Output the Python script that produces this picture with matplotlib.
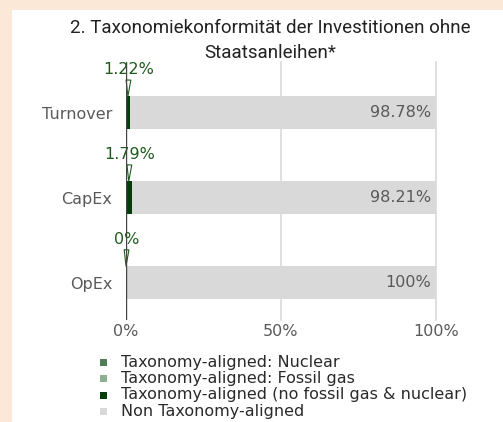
import matplotlib.pyplot as plt
import numpy as np
from matplotlib.patches import Rectangle

categories = ['Turnover', 'CapEx', 'OpEx']
nuclear = [0.0, 0.0, 0.0]
fossil_gas = [0.0, 0.0, 0.0]
aligned = [1.22, 1.79, 0.0]
non_aligned = [98.78, 98.21, 100.0]
aligned_labels = ['1.22%', '1.79%', '0%']
non_labels = ['98.78%', '98.21%', '100%']
x_ticks = [0, 50, 100]
x_tick_labels = ['0%', '50%', '100%']
series_names = ['Taxonomy-aligned: Nuclear', 'Taxonomy-aligned: Fossil gas',
                'Taxonomy-aligned (no fossil gas & nuclear)', 'Non Taxonomy-aligned']

c_nuclear = '#4f7d58'
c_gas = '#8daf92'
c_aligned = '#033d0c'
c_non = '#d9d9d9'
c_label = '#1f5a1f'
c_text = '#595959'

W, H = 503, 422
fig = plt.figure(figsize=(W / 100, H / 100), dpi=100)
fig.patch.set_facecolor('#fbe8d6')
fig.add_artist(Rectangle((12 / W, 0), 1, (H - 10) / H, transform=fig.transFigure,
                         facecolor='white', edgecolor='none', zorder=0))

ax = fig.add_axes([126 / W, (H - 320) / H, 310 / W, 258 / H])
ax.set_facecolor('none')
y = np.arange(len(categories))
h = 0.39

left = np.zeros(len(categories))
for vals, col in [(nuclear, c_nuclear), (fossil_gas, c_gas), (aligned, c_aligned), (non_aligned, c_non)]:
    ax.barh(y, vals, left=left, height=h, color=col, zorder=2)
    left = left + np.array(vals)

for i in range(len(categories)):
    ax.text(98.5, y[i], non_labels[i], ha='right', va='center', color=c_text,
            fontsize=11.5, zorder=3)
    ax.annotate(aligned_labels[i], xy=(aligned[i] / 2, y[i] - h / 2),
                xytext=(aligned[i] / 2 + 0.3, y[i] - 0.42), textcoords='data',
                ha='center', va='bottom', color=c_label, fontsize=11.5,
                arrowprops=dict(arrowstyle='wedge,tail_width=0.3', fc='white',
                                ec=c_label, lw=0.8, shrinkA=0, shrinkB=0),
                zorder=4)

ax.set_xlim(0, 100)
ax.set_ylim(2.44, -0.6)
ax.set_xticks(x_ticks)
ax.set_xticklabels(x_tick_labels, color=c_text, fontsize=11.5)
ax.set_yticks(y)
ax.set_yticklabels(categories, color=c_text, fontsize=11.5)
ax.tick_params(length=0, pad=10)
ax.tick_params(axis='x', pad=3)
for s in ax.spines.values():
    s.set_visible(False)
for xv in x_ticks[1:]:
    ax.axvline(xv, color='#d9d9d9', lw=1.2, zorder=1, clip_on=False)
ax.axvline(0, color='#444444', lw=1, zorder=5)

fig.text(270 / W, 1 - 28 / H, '2. Taxonomiekonformität der Investitionen ohne',
         ha='center', va='center', fontsize=13.5, family='Roboto', color='#222222')
fig.text(270 / W, 1 - 53 / H, 'Staatsanleihen*',
         ha='center', va='center', fontsize=13.5, family='Roboto', color='#222222')

colors = [c_nuclear, c_gas, c_aligned, c_non]
for k, (name, col) in enumerate(zip(series_names, colors)):
    yy = 1 - (362 + 16.5 * k) / H
    fig.add_artist(Rectangle((100 / W, yy - 3.5 / H), 7 / W, 7 / H,
                             transform=fig.transFigure, facecolor=col, edgecolor='none'))
    fig.text(121 / W, yy, name, ha='left', va='center', fontsize=11.5, color='#2a2a2a')

fig.savefig('out.png', dpi=100, facecolor=fig.get_facecolor())
